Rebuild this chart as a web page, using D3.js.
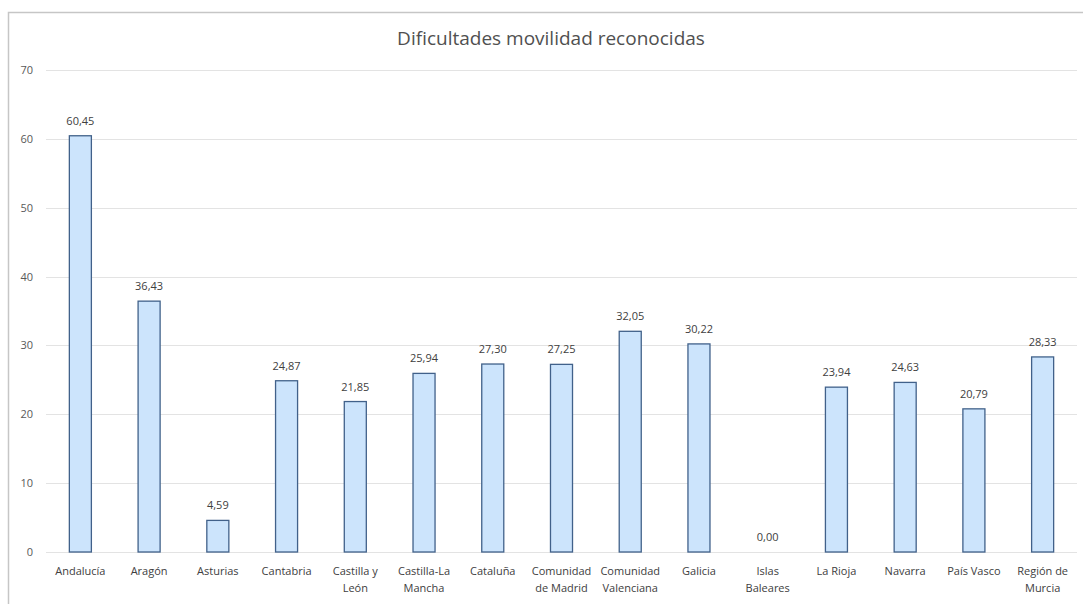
<!DOCTYPE html>
<html><head><meta charset="utf-8">
<script src="https://cdn.jsdelivr.net/npm/d3@7"></script>
<style>
html,body{margin:0;padding:0;background:#fff;}
svg text{font-family:"Open Sans","Noto Sans",sans-serif;}
</style></head>
<body>
<svg id="c" width="1083" height="604"></svg>
<script>
const title = "Dificultades movilidad reconocidas";
const categories = [
  ["Andalucía"],["Aragón"],["Asturias"],["Cantabria"],["Castilla y","León"],
  ["Castilla-La","Mancha"],["Cataluña"],["Comunidad","de Madrid"],["Comunidad","Valenciana"],
  ["Galicia"],["Islas","Baleares"],["La Rioja"],["Navarra"],["País Vasco"],["Región de","Murcia"]
];
const values = [60.45,36.43,4.59,24.87,21.85,25.94,27.30,27.25,32.05,30.22,0.00,23.94,24.63,20.79,28.33];
const yTicks = [0,10,20,30,40,50,60,70];

const svg = d3.select("#c");
const pL = 46, pR = 1077, pT = 70, pB = 552;

// outer border (partially visible)
svg.append("path").attr("d","M8.5,620 L8.5,12.5 L1100,12.5")
  .attr("fill","none").attr("stroke","#c6c6c6").attr("stroke-width",1.5);

const x = d3.scaleBand().domain(d3.range(values.length)).range([pL,pR]).paddingInner(0.665).paddingOuter(0.3325);
const y = d3.scaleLinear().domain([0,70]).range([pB,pT]);

// gridlines
svg.append("g").selectAll("line").data(yTicks).join("line")
  .attr("x1",pL).attr("x2",pR)
  .attr("y1",d=>Math.round(y(d))+0.5).attr("y2",d=>Math.round(y(d))+0.5)
  .attr("stroke","#e3e3e3").attr("stroke-width",1);

// y axis labels
const yAxis = d3.axisLeft(y).tickValues(yTicks).tickSize(0).tickPadding(0).tickFormat(d3.format("d"));
const ga = svg.append("g").attr("transform",`translate(33,0)`).call(yAxis);
ga.select(".domain").remove();
ga.selectAll("text").attr("fill","#595959").attr("font-size",11).attr("font-family","'Open Sans','Noto Sans',sans-serif");

// bars
svg.append("g").selectAll("rect").data(values).join("rect")
  .attr("x",(d,i)=>x(i)+0.5).attr("width",x.bandwidth()-1)
  .attr("y",d=>y(d)).attr("height",d=>Math.max(0,y(0)-y(d)))
  .attr("fill",d=>d>0?"#cce4fc":"none").attr("stroke",d=>d>0?"#41618a":"none").attr("stroke-width",1.3);

// value labels
const fmt = v => v.toFixed(2).replace(".",",");
svg.append("g").selectAll("text").data(values).join("text")
  .attr("x",(d,i)=>x(i)+x.bandwidth()/2).attr("y",d=>y(d)-11)
  .attr("text-anchor","middle").attr("font-size",11).attr("fill","#404040")
  .text(d=>fmt(d));

// category labels
const cg = svg.append("g").selectAll("text").data(categories).join("text")
  .attr("x",(d,i)=>x(i)+x.bandwidth()/2).attr("y",575)
  .attr("text-anchor","middle").attr("font-size",11).attr("fill","#404040");
cg.each(function(d,i){
  const t = d3.select(this);
  d.forEach((line,j)=>{
    t.append("tspan").attr("x",x(i)+x.bandwidth()/2).attr("dy",j===0?0:17).text(line);
  });
});

// title
svg.append("text").attr("x",551).attr("y",45).attr("text-anchor","middle")
  .attr("font-size",19).attr("fill","#505050").text(title);
</script>
</body></html>
